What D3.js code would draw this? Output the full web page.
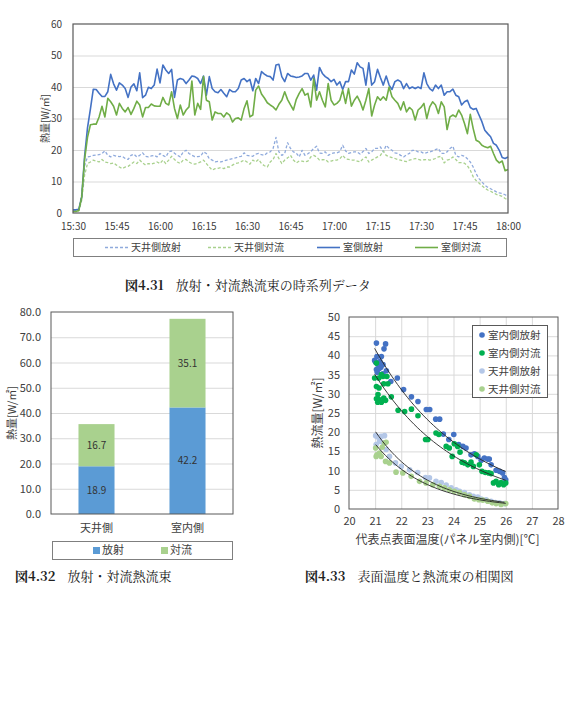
<!DOCTYPE html>
<html>
<head>
<meta charset="utf-8">
<title>放射・対流熱流束</title>
<script src="https://cdnjs.cloudflare.com/ajax/libs/d3/7.8.5/d3.min.js"></script>
<style>
    body { margin: 0; background: #fff; }
    svg text { font-family: "Noto Sans CJK JP", "Noto Sans", sans-serif; fill: #404040; }
    svg text.caption { font-family: "Noto Serif CJK JP", "Liberation Serif", "Noto Sans CJK JP", serif; fill: #222; }
</style>
</head>
<body>
<svg id="fig" width="573" height="723"></svg>
<script>
// ---- fig 4.31 : one value per minute, 15:30 - 18:00 ----
var ceilRad = [0.8, 0.8, 1, 6, 15,
    17.8, 18, 18.3, 18.4, 18.5, 18.9, 19.7, 18.3, 17.8, 18.3,
    18, 17.9, 18, 17.3, 17, 18.3, 18.7, 17.8, 18.3, 19.1,
    18, 17.8, 18.1, 18.3, 17.8, 18.9, 18.3, 17.8, 19.4, 19.7,
    19, 18.3, 17.8, 19.4, 19.9, 18.9, 18.3, 17.9, 17.9, 18,
    19.4, 18.9, 17.2, 16.8, 16.2, 16.4, 16.2, 16.5, 16.8, 17,
    17.3, 17.5, 17.8, 18, 19.1, 18.3, 18.1, 18, 18.7, 18.9,
    18.5, 18.3, 19.1, 19.4, 20.5, 24, 19.4, 18.3, 18.9, 22.3,
    20.5, 19.4, 19, 17.8,
    19.9, 18.3, 18.8, 19.5, 20.5, 21.2, 19, 18.9, 19.4, 18.3,
    18.8, 19.1, 19.1, 19.5, 21.5, 19.7, 18.9, 19.2, 19.4, 19.4,
    18.7, 19.5, 20.5, 18.9, 19.4, 20.5, 20.5, 21, 19.4, 21.5,
    20.5, 19.9, 19.1, 18.9, 18.3, 17.8, 18.5, 18.9, 19.9, 19.9,
    19.4, 19.4, 18.9, 19.2, 19.4, 19.7, 20.1, 20.5, 18.9, 18.9,
    19.4, 20.5, 21.2, 18.3, 17.8, 18.3, 18, 17.2, 16.2, 14.6,
    12.5, 10.9, 9.9, 8.8, 8.2, 7.7, 7.2, 6.7, 6.4, 6.2,
    5.8, 5.3];

var ceilConv = [0.5, 0.5, 0.7, 4, 12,
    15.7, 16.2, 16.8, 16.5, 16.2, 17, 16.2, 16, 15.7, 15.9,
    15.2, 14.6, 14.1, 14.6, 14.8, 15.5, 16.2, 15.7, 16.8, 15.9,
    15.2, 15.7, 15.5, 15.8, 16.2, 15.7, 16.8, 15.7, 16.8, 18,
    17, 16.2, 15.7, 16.8, 17, 16.2, 15.7, 15.5, 15.8, 16.2,
    16.8, 15.7, 14.6, 13.6, 14.1, 14.2, 14.4, 14.1, 14.6, 14.6,
    15.2, 15.7, 15.9, 16.3, 16.8, 16.2, 15.5, 16.8, 16.2, 17,
    15.7, 15, 14.6, 16.2, 17, 18.9, 17.3, 15.7, 16.8, 17.5,
    18.3, 16.8, 15.9, 16.5,
    16.5, 16.2, 16.5, 17.8, 18.3, 17.8, 16.8, 16.9, 17, 16.2,
    16.5, 16.8, 16.8, 17.2, 18.3, 17.2, 17, 16.8, 16.8, 16.5,
    16.2, 17.2, 17.8, 16.2, 16.8, 17.3, 17.8, 18.3, 19.7, 18.3,
    17.9, 17.6, 17.3, 17, 16.8, 16.5, 16.3, 16.8, 17, 17.3,
    17, 16.8, 16.9, 17, 16.8, 17, 17.3, 17.8, 18, 15.9,
    16.8, 17, 17.8, 17, 16, 16, 15.8, 15, 13.6, 11.5,
    10.3, 9.5, 8.7, 7.9, 7.3, 6.9, 6.4, 5.9, 5.6, 5.3,
    4.6, 4.2];

var roomRad = [1, 1, 1.2, 5, 18, 27, 33,
    39.3, 39.2, 38, 37, 37, 38.5, 44, 41, 39, 41.3, 40.6,
    39.5, 36.7, 40, 41, 38.8, 44.5, 36.6, 37.4, 39.9, 39.5,
    40.6, 45.7, 41.3, 47, 45.4, 44.3, 45.6, 36.7, 42.2, 42.7,
    42.4, 41.1, 42.2, 43.5, 43.3, 42.7, 41.1, 43.5, 37.4, 43.3,
    39.5, 38.5, 38.2, 39.2, 38, 36.9, 39.2, 38.5, 38.5, 39.5,
    42.2, 42.7, 41.7, 42.4, 38.8, 42.7, 41.1, 44.9, 44.1, 43.5,
    43.3, 42.2, 47, 47.2, 43.3, 41.7, 44.3, 43.5, 43.3, 43,
    43.2,
    43.5, 44.3, 44.3, 42.2, 43.8, 39, 46.2, 44.3, 43.3, 42.7,
    41.7, 42.4, 40.6, 41.7, 39.2, 41.7, 41.7, 45.4, 44.1, 47.7,
    46.4, 45.9, 40.6, 47.7, 40.6, 41.7, 45.6, 43, 40.6, 43.5,
    40.6, 39.2, 41.7, 42.2, 41.7, 39.5, 41.1, 39.5, 40, 39.5,
    40, 39.5, 44.5, 41.1, 39.5, 38.8, 40.6, 39.5, 40.6, 37.4,
    38.5, 38.5, 39.3, 37.4, 36.9, 34.3, 35.3, 35.8, 33.5, 32.9,
    33.2, 31.1, 29, 26.3, 25.2, 24.2, 22.1, 21.5, 19.9, 17.6,
    17.3, 17.8];

var roomConv = [0.5, 0.5, 0.8, 5, 17, 24, 28,
    28.2, 28.2, 30.5, 33.9, 30.5, 36.4, 35.3, 33.9, 31.1, 34.8,
    33.2, 32.1, 33.5, 31.3, 33.2, 35.5, 34.3, 30.5, 33.5, 33.5,
    34.6, 34, 33.9, 33.9, 36.7, 34.8, 34.3, 38.5, 33.2, 30,
    34.3, 31.1, 32.7, 33.7, 41.9, 31.1, 34.8, 32.9, 43.3, 35.8,
    35.3, 29.5, 32.1, 31.6, 31.6, 30.5, 31.8, 31.1, 28.9, 30,
    30.2, 29.5, 33.2, 35.6, 30.5, 31.1, 39, 40.3, 37.8, 36.5,
    35, 34.3, 33.7, 32.7, 34.5, 35.8, 38.5, 36, 34.3, 32.7,
    36.1, 38,
    39.5, 37.4, 38, 33.7, 42.7, 35.8, 38.5, 35.8, 33.7, 41.1,
    35.8, 34.3, 34.8, 35.8, 39, 34.8, 39.5, 33.9, 35.8, 37.1,
    35.3, 32.7, 35.8, 39.5, 30.8, 34.3, 36.9, 35.8, 36.9, 35.8,
    40, 36.9, 35.8, 34.8, 32.7, 35.3, 32.1, 33.5, 32.7, 29.5,
    32.7, 33.5, 34.8, 30, 33.7, 35.3, 34.3, 31.6, 35.3, 33.7,
    26.5, 30.5, 31.1, 30.5, 32.7, 31.1, 28.4, 25.2, 31.3, 26.8,
    23.1, 22.6, 21.5, 21, 20.7, 21.2, 18.9, 16.8, 15.9, 16.5,
    13.4, 13.8];

var seriesNames = ["天井側放射", "天井側対流", "室側放射", "室側対流"];
var timeTicks = ["15:30", "15:45", "16:00", "16:15", "16:30", "16:45", "17:00", "17:15", "17:30", "17:45", "18:00"];

// ---- fig 4.32 ----
var barCats = ["天井側", "室内側"];
var radVals = [18.9, 42.2];
var convVals = [16.7, 35.1];
var barKeys = ["放射", "対流"];

// ---- fig 4.33 : surface temperature [C] vs heat flux [W/m2] ----
var roomRadT = [21.05, 21.40, 21.34, 20.98, 21.07, 21.24, 21.11, 21.30, 21.05, 21.15, 21.43, 21.30, 21.02, 21.18, 21.08, 21.22,
    21.60, 21.85, 22.09, 22.39, 22.64, 22.96, 23.09, 23.32, 23.47, 23.61, 23.82, 24.01, 24.20, 24.36, 24.48,
    24.67, 24.80, 24.93, 25.06, 25.18, 25.31, 25.37, 25.44, 25.63, 25.76, 25.88, 25.95, 26.00];
var roomRadQ = [43.2, 43.0, 41.7, 38.7, 39.7, 39.7, 37.6, 37.6, 36.3, 36.5, 36.0, 35.2, 38.2, 38.4, 35.6, 36.9,
    33.2, 34.1, 31.1, 29.2, 28.0, 25.9, 25.9, 23.4, 23.4, 19.5, 18.1, 19.4, 16.8, 16.3, 15.9,
    14.1, 14.4, 13.7, 12.7, 13.3, 13.0, 13.0, 11.5, 10.1, 9.8, 9.4, 8.2, 7.6];

var roomConvT = [21.05, 20.98, 21.14, 21.30, 21.45, 21.05, 21.15, 21.33, 21.49, 21.11, 21.05, 21.15, 21.33, 21.40, 21.10, 21.24, 21.24,
    21.62, 21.88, 22.13, 22.39, 22.64, 22.93, 23.02, 23.33, 23.44, 23.72, 23.84, 23.95, 24.03, 24.16, 24.25,
    24.33, 24.42, 24.55, 24.67, 24.76, 24.87, 24.99, 25.09, 25.22, 25.35, 25.44, 25.53, 25.63, 25.73, 25.82, 25.92, 26.00];
var roomConvQ = [38.0, 34.1, 34.1, 34.5, 34.5, 31.9, 31.5, 32.6, 32.6, 29.8, 28.7, 28.5, 28.9, 28.3, 27.8, 27.8, 35.0,
    29.2, 25.7, 25.4, 26.0, 24.3, 18.1, 18.1, 19.8, 19.4, 16.3, 15.9, 13.7, 17.0, 16.3, 14.8,
    12.2, 12.0, 11.5, 12.2, 11.1, 14.1, 11.5, 9.8, 9.5, 9.4, 9.2, 6.8, 7.2, 6.3, 6.9, 6.3, 6.8];

var ceilRadT = [21.02, 21.10, 21.23, 21.36, 21.04, 21.17, 21.32, 21.42, 21.55, 21.78, 22.00, 22.32, 22.63, 22.93, 23.08, 23.33,
    23.53, 23.72, 23.91, 24.10, 24.23, 24.42, 24.61, 24.76, 24.93, 25.06, 25.25, 25.44, 25.60, 25.76, 25.95];
var ceilRadQ = [19.1, 18.75, 18.9, 19.1, 16.8, 17.6, 17.2, 15.5, 13.7, 12.0, 11.1, 10.2, 9.5, 8.2, 8.1, 7.2,
    6.9, 6.25, 5.5, 5.0, 4.6, 4.3, 3.7, 3.3, 3.1, 2.6, 2.4, 2.0, 1.7, 1.6, 1.4];

var ceilConvT = [21.02, 21.07, 21.17, 21.27, 21.36, 21.42, 21.04, 21.23, 21.40, 21.55, 21.80, 22.06, 22.38, 22.70, 22.95, 23.21,
    23.46, 23.65, 23.84, 24.03, 24.23, 24.42, 24.61, 24.80, 24.97, 25.12, 25.31, 25.48, 25.63, 25.82, 26.00];
var ceilConvQ = [15.9, 14.1, 14.6, 16.1, 17.2, 17.4, 13.7, 13.7, 12.4, 12.0, 9.6, 9.4, 8.5, 7.2, 6.8, 6.3,
    5.9, 5.5, 5.0, 4.6, 4.3, 3.7, 3.3, 2.6, 2.4, 2.3, 2.0, 1.6, 1.4, 1.2, 1.4];

var scatterNames = ["室内側放射", "室内側対流", "天井側放射", "天井側対流"];

var svg = d3.select("#fig");
var frameColor = "#595959",
    gridColor = "#d9d9d9";

function frame(g, box) {
    g.append("rect")
        .attr("x", box.left).attr("y", box.top)
        .attr("width", box.right - box.left).attr("height", box.bottom - box.top)
        .attr("fill", "none").attr("stroke", frameColor).attr("stroke-width", 1);
}

function cleanAxis(g) {
    g.select(".domain").remove();
    g.selectAll(".tick line").remove();
    g.selectAll("text").attr("fill", "#404040");
}

// ================= fig 4.31 =================
var ts = {left: 73, right: 508, top: 24, bottom: 213};
var tStart = d3.timeParse("%H:%M")(timeTicks[0]),
    tEnd = d3.timeParse("%H:%M")(timeTicks[timeTicks.length - 1]);
var times = roomRad.map(function(d, i) { return d3.timeMinute.offset(tStart, i); });

var xT = d3.scaleTime().domain([tStart, tEnd]).range([ts.left, ts.right]);
var yT = d3.scaleLinear().domain([0, 60]).range([ts.bottom, ts.top]);

var g1 = svg.append("g");

g1.append("g")
    .attr("transform", "translate(" + ts.left + ",0)")
    .call(d3.axisLeft(yT).tickValues(d3.range(10, 60, 10)).tickSize(-(ts.right - ts.left)).tickFormat(""))
    .call(function(g) { g.select(".domain").remove(); g.selectAll(".tick line").attr("stroke", gridColor); });

g1.append("g")
    .attr("transform", "translate(" + ts.left + ",0)")
    .style("font-size", "10px")
    .call(d3.axisLeft(yT).tickValues(d3.range(0, 70, 10)).tickSize(0).tickPadding(11))
    .call(cleanAxis);

g1.append("g")
    .attr("transform", "translate(0," + ts.bottom + ")")
    .style("font-size", "10px")
    .call(d3.axisBottom(xT).tickValues(timeTicks.map(d3.timeParse("%H:%M"))).tickFormat(d3.timeFormat("%H:%M")).tickSize(0).tickPadding(10))
    .call(cleanAxis);

var lineSeries = [
    {name: seriesNames[0], values: ceilRad, color: "#8faadc", dash: "3,2", width: 1.3},
    {name: seriesNames[1], values: ceilConv, color: "#a9d18e", dash: "3,2", width: 1.3},
    {name: seriesNames[2], values: roomRad, color: "#4472c4", dash: null, width: 1.6},
    {name: seriesNames[3], values: roomConv, color: "#70ad47", dash: null, width: 1.6}
];

var tLine = d3.line()
    .x(function(d, i) { return xT(times[i]); })
    .y(function(d) { return yT(d); });

g1.selectAll(".series")
    .data(lineSeries).enter().append("path")
    .attr("class", "series")
    .attr("d", function(s) { return tLine(s.values); })
    .attr("fill", "none")
    .attr("stroke", function(s) { return s.color; })
    .attr("stroke-width", function(s) { return s.width; })
    .attr("stroke-dasharray", function(s) { return s.dash; })
    .attr("stroke-linejoin", "round");

frame(g1, ts);
g1.select("rect").attr("stroke-width", 1.2);

// legend
g1.append("rect")
    .attr("x", 73.5).attr("y", 238.5).attr("width", 433).attr("height", 18)
    .attr("fill", "none").attr("stroke", "#7f7f7f");

var legX = [105, 208, 317, 415];
var leg1 = g1.selectAll(".leg1")
    .data(lineSeries).enter().append("g")
    .attr("class", "leg1")
    .attr("transform", function(d, i) { return "translate(" + legX[i] + ",247.5)"; });
leg1.append("line")
    .attr("x1", 0).attr("x2", 23)
    .attr("stroke", function(s) { return s.color; })
    .attr("stroke-width", function(s) { return s.width; })
    .attr("stroke-dasharray", function(s) { return s.dash; });
leg1.append("text")
    .attr("x", 26).attr("dy", "0.35em")
    .style("font-size", "10px")
    .text(function(s) { return s.name; });

svg.append("text")
    .attr("class", "caption")
    .attr("x", 125).attr("y", 290)
    .style("font-size", "13px")
    .call(function(t) {
        t.append("tspan").attr("font-weight", "bold").text("図4.31");
        t.append("tspan").attr("dx", 12).text("放射・対流熱流束の時系列データ");
    });

g1.append("text")
    .attr("transform", "translate(45," + (ts.top + ts.bottom) / 2 + ") rotate(-90)")
    .attr("text-anchor", "middle")
    .attr("dy", "0.35em")
    .style("font-size", "10px")
    .text("熱量[W/㎡]");

// ================= fig 4.32 =================
var bs = {left: 51, right: 233, top: 312, bottom: 514};
var barRows = barCats.map(function(c, i) { return {cat: c, "放射": radVals[i], "対流": convVals[i]}; });
var stacked = d3.stack().keys(barKeys)(barRows);
var barColor = d3.scaleOrdinal().domain(barKeys).range(["#5b9bd5", "#a9d18e"]);

var xB = d3.scaleBand().domain(barCats).range([bs.left, bs.right]).paddingInner(0.604).paddingOuter(0.302);
var yB = d3.scaleLinear().domain([0, 80]).range([bs.bottom, bs.top]);

var g2 = svg.append("g");

g2.append("g")
    .attr("transform", "translate(" + bs.left + ",0)")
    .call(d3.axisLeft(yB).tickValues(d3.range(10, 80, 10)).tickSize(-(bs.right - bs.left)).tickFormat(""))
    .call(function(g) { g.select(".domain").remove(); g.selectAll(".tick line").attr("stroke", gridColor); });

g2.append("g")
    .attr("transform", "translate(" + bs.left + ",0)")
    .style("font-size", "11px")
    .call(d3.axisLeft(yB).tickValues(d3.range(0, 90, 10)).tickFormat(d3.format(".1f")).tickSize(0).tickPadding(10))
    .call(cleanAxis);

g2.append("g")
    .attr("transform", "translate(0," + bs.bottom + ")")
    .style("font-size", "11px")
    .call(d3.axisBottom(xB).tickSize(0).tickPadding(10))
    .call(cleanAxis)
    .call(function(g) { g.selectAll("text").attr("fill", "#262626"); });

var layers = g2.selectAll(".layer")
    .data(stacked).enter().append("g")
    .attr("class", "layer")
    .attr("fill", function(d) { return barColor(d.key); });

layers.selectAll("rect")
    .data(function(d) { return d; }).enter().append("rect")
    .attr("x", function(d) { return xB(d.data.cat); })
    .attr("width", xB.bandwidth())
    .attr("y", function(d) { return yB(d[1]); })
    .attr("height", function(d) { return yB(d[0]) - yB(d[1]); });

layers.selectAll("text")
    .data(function(d) { return d; }).enter().append("text")
    .attr("x", function(d) { return xB(d.data.cat) + xB.bandwidth() / 2; })
    .attr("y", function(d) { return yB((d[0] + d[1]) / 2); })
    .attr("text-anchor", "middle")
    .attr("dy", "0.35em")
    .style("font-size", "10px")
    .style("fill", "#333")
    .text(function(d) { return d3.format(".1f")(d[1] - d[0]); });

frame(g2, bs);

g2.append("text")
    .attr("transform", "translate(12," + (bs.top + bs.bottom) / 2 + ") rotate(-90)")
    .attr("text-anchor", "middle")
    .attr("dy", "0.35em")
    .style("font-size", "11px")
    .text("熱量[W/㎡]");

g2.append("rect")
    .attr("x", 52.5).attr("y", 541.5).attr("width", 180).attr("height", 18)
    .attr("fill", "none").attr("stroke", "#7f7f7f");

var leg2X = [93, 161];
var leg2 = g2.selectAll(".leg2")
    .data(barKeys).enter().append("g")
    .attr("class", "leg2")
    .attr("transform", function(d, i) { return "translate(" + leg2X[i] + ",550.5)"; });
leg2.append("rect")
    .attr("x", 0).attr("y", -3.5).attr("width", 7).attr("height", 7)
    .attr("fill", function(d) { return barColor(d); });
leg2.append("text")
    .attr("x", 9).attr("dy", "0.35em")
    .style("font-size", "11px")
    .text(function(d) { return d; });

svg.append("text")
    .attr("class", "caption")
    .attr("x", 15).attr("y", 581)
    .style("font-size", "13px")
    .call(function(t) {
        t.append("tspan").attr("font-weight", "bold").text("図4.32");
        t.append("tspan").attr("dx", 12).text("放射・対流熱流束");
    });

// ================= fig 4.33 =================
var ss = {left: 349, right: 558, top: 317, bottom: 509};
var xS = d3.scaleLinear().domain([20, 28]).range([ss.left, ss.right]);
var yS = d3.scaleLinear().domain([0, 50]).range([ss.bottom, ss.top]);

var g3 = svg.append("g");

g3.append("g")
    .attr("transform", "translate(" + ss.left + ",0)")
    .call(d3.axisLeft(yS).tickValues(d3.range(5, 50, 5)).tickSize(-(ss.right - ss.left)).tickFormat(""))
    .call(function(g) { g.select(".domain").remove(); g.selectAll(".tick line").attr("stroke", gridColor); });

g3.append("g")
    .attr("transform", "translate(0," + ss.bottom + ")")
    .call(d3.axisBottom(xS).tickValues(d3.range(21, 28, 1)).tickSize(-(ss.bottom - ss.top)).tickFormat(""))
    .call(function(g) { g.select(".domain").remove(); g.selectAll(".tick line").attr("stroke", gridColor); });

g3.append("g")
    .attr("transform", "translate(" + ss.left + ",0)")
    .style("font-size", "11px")
    .call(d3.axisLeft(yS).tickValues(d3.range(0, 55, 5)).tickSize(0).tickPadding(9))
    .call(cleanAxis);

g3.append("g")
    .attr("transform", "translate(0," + ss.bottom + ")")
    .style("font-size", "11px")
    .call(d3.axisBottom(xS).tickValues(d3.range(20, 29, 1)).tickSize(0).tickPadding(8))
    .call(cleanAxis);

var scatterSeries = [
    {name: scatterNames[0], t: roomRadT, q: roomRadQ, color: "#4472c4"},
    {name: scatterNames[1], t: roomConvT, q: roomConvQ, color: "#00b050"},
    {name: scatterNames[2], t: ceilRadT, q: ceilRadQ, color: "#b4c7e7"},
    {name: scatterNames[3], t: ceilConvT, q: ceilConvQ, color: "#a9d18e"}
];

scatterSeries.forEach(function(s) {
    g3.append("g").selectAll("circle")
        .data(s.t).enter().append("circle")
        .attr("cx", function(d) { return xS(d); })
        .attr("cy", function(d, i) { return yS(s.q[i]); })
        .attr("r", 2.8)
        .attr("fill", s.color);
});

// exponential trend lines (least squares on log q)
function expFit(xs, ys) {
    var ly = ys.map(Math.log),
        mx = d3.mean(xs), my = d3.mean(ly);
    var b = d3.sum(xs, function(x, i) { return (x - mx) * (ly[i] - my); }) /
            d3.sum(xs, function(x) { return (x - mx) * (x - mx); });
    var a = my - b * mx;
    return function(x) { return Math.exp(a + b * x); };
}

var trendLine = d3.line().x(function(d) { return xS(d[0]); }).y(function(d) { return yS(d[1]); });
scatterSeries.forEach(function(s) {
    var f = expFit(s.t, s.q);
    var ext = d3.extent(s.t);
    var pts = d3.range(0, 41).map(function(k) { var x = ext[0] + (ext[1] - ext[0]) * k / 40; return [x, f(x)]; });
    g3.append("path")
        .attr("d", trendLine(pts))
        .attr("fill", "none")
        .attr("stroke", "#262626")
        .attr("stroke-width", 0.9);
});

frame(g3, ss);

g3.append("rect")
    .attr("x", 472.5).attr("y", 325.5).attr("width", 75).attr("height", 72)
    .attr("fill", "#fff").attr("stroke", frameColor);

var leg3 = g3.selectAll(".leg3")
    .data(scatterSeries).enter().append("g")
    .attr("class", "leg3")
    .attr("transform", function(d, i) { return "translate(482," + (335 + i * 18) + ")"; });
leg3.append("circle").attr("r", 2.8).attr("fill", function(d) { return d.color; });
leg3.append("text")
    .attr("x", 6).attr("dy", "0.35em")
    .style("font-size", "10.5px")
    .text(function(d) { return d.name; });

g3.append("text")
    .attr("transform", "translate(318," + (ss.top + ss.bottom) / 2 + ") rotate(-90)")
    .attr("text-anchor", "middle")
    .attr("dy", "0.35em")
    .style("font-size", "12px")
    .text("熱流量[W/㎡]");

g3.append("text")
    .attr("x", (ss.left + ss.right) / 2 - 6).attr("y", 540)
    .attr("text-anchor", "middle")
    .attr("dy", "0.35em")
    .style("font-size", "12px")
    .text("代表点表面温度(パネル室内側)[℃]");

svg.append("text")
    .attr("class", "caption")
    .attr("x", 305).attr("y", 581)
    .style("font-size", "13px")
    .call(function(t) {
        t.append("tspan").attr("font-weight", "bold").text("図4.33");
        t.append("tspan").attr("dx", 12).text("表面温度と熱流束の相関図");
    });
</script>
</body>
</html>
